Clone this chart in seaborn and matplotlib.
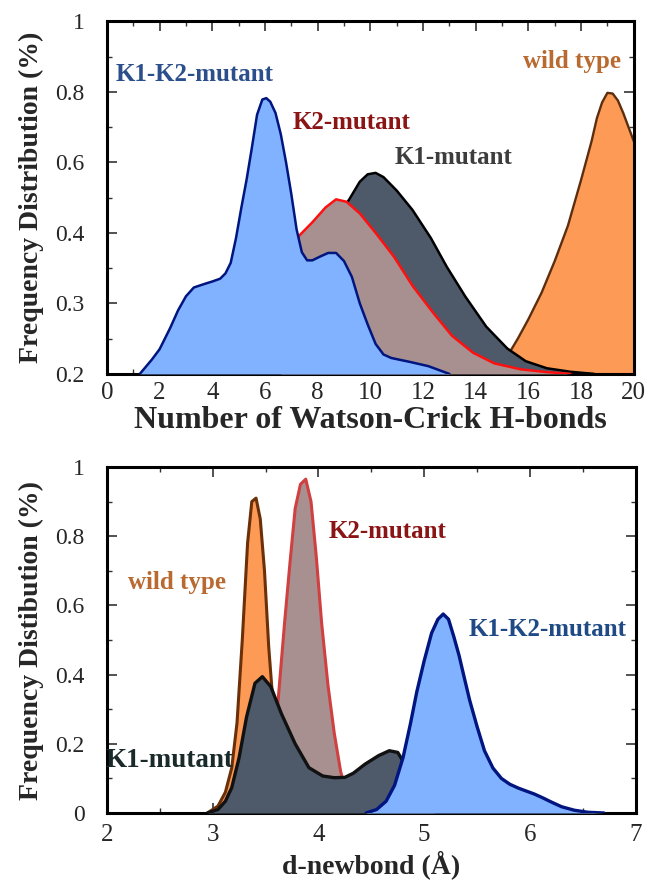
import matplotlib
matplotlib.use("Agg")
import matplotlib.pyplot as plt
from matplotlib.ticker import MultipleLocator
import seaborn as sns

# ---- top panel: number of Watson-Crick H-bonds ----
# y values are axis positions (0 = bottom, 1 = top); the tick labels are relabelled below
hb_ytick_labels = ['0.2', '0.3', '0.4', '0.6', '0.8', '1']

hb_wt_x = [14.8, 15.2, 15.6, 16.0, 16.5, 17.0, 17.5, 18.0, 18.4, 18.6, 18.8, 19.0, 19.2,
           19.4, 19.6, 19.8, 20.0]
hb_wt_y = [0.0, 0.05, 0.1, 0.155, 0.23, 0.32, 0.42, 0.55, 0.66, 0.725, 0.77, 0.797, 0.795,
           0.775, 0.74, 0.7, 0.66]

hb_k1_x = [8.4, 8.8, 9.2, 9.6, 9.9, 10.2, 10.5, 11.0, 11.6, 12.3, 12.9, 13.6, 14.4, 15.2,
           15.9, 16.7, 17.6, 18.5]
hb_k1_y = [0.4, 0.45, 0.495, 0.545, 0.566, 0.57, 0.558, 0.52, 0.465, 0.385, 0.304, 0.22,
           0.134, 0.072, 0.036, 0.016, 0.006, 0.0]

hb_k2_x = [6.6, 7.0, 7.3, 7.8, 8.3, 8.7, 9.1, 9.6, 10.2, 10.9, 11.6, 12.4, 13.1, 13.9,
           14.7, 15.7, 16.7, 17.6]
hb_k2_y = [0.28, 0.34, 0.392, 0.43, 0.472, 0.495, 0.488, 0.455, 0.4, 0.332, 0.25, 0.172,
           0.108, 0.06, 0.03, 0.013, 0.005, 0.0]

hb_k1k2_x = [1.25, 1.7, 2.0, 2.4, 2.7, 3.0, 3.3, 3.7, 4.0, 4.3, 4.5, 4.7, 4.9, 5.1, 5.3,
             5.5, 5.7, 5.9, 6.05, 6.2, 6.4, 6.6, 6.8, 7.0, 7.2, 7.4, 7.6, 7.8, 8.1, 8.4,
             8.7, 9.0, 9.3, 9.6, 9.9, 10.2, 10.5, 10.8, 11.5, 12.2, 13.0]
hb_k1k2_y = [0.0, 0.04, 0.07, 0.13, 0.18, 0.22, 0.245, 0.255, 0.262, 0.27, 0.285, 0.315,
             0.385, 0.47, 0.55, 0.64, 0.735, 0.778, 0.782, 0.772, 0.74, 0.68, 0.6, 0.51,
             0.41, 0.345, 0.322, 0.322, 0.333, 0.343, 0.343, 0.32, 0.275, 0.2, 0.14,
             0.085, 0.055, 0.045, 0.034, 0.022, 0.0]

# ---- bottom panel: d-newbond ----
nb_wt_x = [2.95, 3.05, 3.12, 3.18, 3.23, 3.28, 3.33, 3.37, 3.41, 3.45, 3.49, 3.53, 3.58,
           3.65, 3.75]
nb_wt_y = [0.0, 0.02, 0.06, 0.13, 0.26, 0.5, 0.78, 0.9, 0.91, 0.85, 0.7, 0.48, 0.28, 0.1, 0.0]

nb_k2_x = [3.45, 3.55, 3.62, 3.68, 3.73, 3.78, 3.83, 3.88, 3.93, 3.98, 4.03, 4.09, 4.15,
           4.21, 4.28, 4.38]
nb_k2_y = [0.0, 0.14, 0.33, 0.55, 0.72, 0.88, 0.95, 0.965, 0.9, 0.74, 0.55, 0.37, 0.23,
           0.12, 0.04, 0.0]

nb_k1_x = [2.95, 3.05, 3.12, 3.18, 3.25, 3.32, 3.4, 3.47, 3.55, 3.65, 3.78, 3.91, 4.04,
           4.15, 4.25, 4.33, 4.44, 4.57, 4.67, 4.75, 4.82, 4.9, 5.0, 5.1]
nb_k1_y = [0.0, 0.01, 0.034, 0.073, 0.16, 0.277, 0.375, 0.394, 0.365, 0.287, 0.2, 0.131,
           0.107, 0.102, 0.103, 0.115, 0.141, 0.166, 0.18, 0.175, 0.14, 0.08, 0.03, 0.0]

nb_k1k2_x = [4.45, 4.55, 4.64, 4.72, 4.8, 4.87, 4.93, 5.0, 5.07, 5.13, 5.18, 5.23, 5.28,
             5.33, 5.38, 5.43, 5.5, 5.57, 5.65, 5.73, 5.81, 5.89, 5.96, 6.04, 6.12, 6.2,
             6.3, 6.42, 6.55, 6.7]
nb_k1k2_y = [0.0, 0.01, 0.034, 0.08, 0.16, 0.258, 0.35, 0.44, 0.52, 0.56, 0.575, 0.56,
             0.51, 0.455, 0.39, 0.326, 0.25, 0.18, 0.13, 0.1, 0.083, 0.072, 0.064, 0.055,
             0.044, 0.032, 0.018, 0.008, 0.002, 0.0]

BLUE_FILL, BLUE_EDGE = '#80b2ff', '#00157f'
ROSE_FILL = '#a89090'
SLATE_FILL = '#4e5a6a'
ORANGE_FILL = '#fd9a56'


def draw_curve(ax, x, y, fill, edge, lw, z):
    ax.fill_between(x, 0, y, color=fill, lw=0, zorder=z)
    sns.lineplot(x=x, y=y, ax=ax, color=edge, lw=lw, sort=False, estimator=None,
                 zorder=z + 0.5, solid_joinstyle='round')


def style_axes(ax, xpad):
    for sp in ax.spines.values():
        sp.set_linewidth(2.2)
        sp.set_color('black')
    ax.tick_params(which='both', direction='in', top=True, right=True, color='#333333')
    ax.tick_params(which='major', length=7, width=1.2)
    ax.tick_params(which='minor', length=3.5, width=1.0)
    ax.tick_params(axis='x', labelsize=18, pad=xpad)
    ax.tick_params(axis='y', labelsize=17, pad=16)


sns.set_theme(style="ticks")
plt.rcParams['font.family'] = ['Liberation Serif', 'DejaVu Serif']

fig = plt.figure(figsize=(6.48, 8.86), dpi=100)
ax1 = fig.add_axes([0.165, 0.578, 0.813, 0.398])
ax2 = fig.add_axes([0.165, 0.0824, 0.816, 0.3905])

# top panel (back to front)
draw_curve(ax1, hb_wt_x, hb_wt_y, ORANGE_FILL, '#5c2e0e', 1.7, 1)
draw_curve(ax1, hb_k1_x, hb_k1_y, SLATE_FILL, 'black', 1.8, 2)
draw_curve(ax1, hb_k2_x, hb_k2_y, ROSE_FILL, '#ff1010', 1.8, 3)
draw_curve(ax1, hb_k1k2_x, hb_k1k2_y, BLUE_FILL, BLUE_EDGE, 1.8, 4)

ax1.set_xlim(0, 20)
ax1.set_ylim(0, 1)
ax1.xaxis.set_major_locator(MultipleLocator(2))
ax1.xaxis.set_minor_locator(MultipleLocator(1))
ax1.set_yticks([0, 0.2, 0.4, 0.6, 0.8, 1.0])
ax1.set_yticklabels(hb_ytick_labels)
ax1.yaxis.set_minor_locator(MultipleLocator(0.1))
style_axes(ax1, 6)
ax1.set_xlabel('Number of Watson-Crick H-bonds', fontsize=23, fontweight='bold', labelpad=1)
ax1.set_ylabel('Frequency Distribution (%)', fontsize=20, fontweight='bold', labelpad=8)

lab = dict(fontsize=18, fontweight='bold', ha='center', va='baseline', zorder=10)
ax1.text(3.34, 0.831, 'K1-K2-mutant', color='#2b4f8a', **lab)
ax1.text(9.28, 0.694, 'K2-mutant', color='#8b1414', **lab)
ax1.text(13.16, 0.596, 'K1-mutant', color='#3d3d3d', **lab)
ax1.text(17.67, 0.867, 'wild type', color='#b86a30', **lab)

# bottom panel (back to front)
draw_curve(ax2, nb_wt_x, nb_wt_y, ORANGE_FILL, '#6b3007', 2.2, 1)
draw_curve(ax2, nb_k2_x, nb_k2_y, ROSE_FILL, '#d04040', 2.2, 2)
draw_curve(ax2, nb_k1_x, nb_k1_y, SLATE_FILL, '#111111', 2.4, 3)
draw_curve(ax2, nb_k1k2_x, nb_k1k2_y, BLUE_FILL, BLUE_EDGE, 2.4, 4)

ax2.set_xlim(2, 7)
ax2.set_ylim(0, 1)
ax2.xaxis.set_major_locator(MultipleLocator(1))
ax2.xaxis.set_minor_locator(MultipleLocator(0.5))
ax2.set_yticks([0, 0.2, 0.4, 0.6, 0.8, 1.0])
ax2.set_yticklabels(['0', '0.2', '0.4', '0.6', '0.8', '1'])
ax2.yaxis.set_minor_locator(MultipleLocator(0.1))
style_axes(ax2, 8)
ax2.set_xlabel('d-newbond (Å)', fontsize=20, fontweight='bold', labelpad=3)
ax2.set_ylabel('Frequency Distibution (%)', fontsize=20, fontweight='bold', labelpad=8)

ax2.text(2.66, 0.647, 'wild type', color='#b86a30', **lab)
ax2.text(4.65, 0.795, 'K2-mutant', color='#8b1414', **lab)
ax2.text(6.17, 0.513, 'K1-K2-mutant', color='#1f4a85', **lab)
ax2.text(2.59, 0.133, 'K1-mutant', color='#1a2a2a', **dict(lab, fontsize=19.5))

fig.savefig('out.png', dpi=100)
